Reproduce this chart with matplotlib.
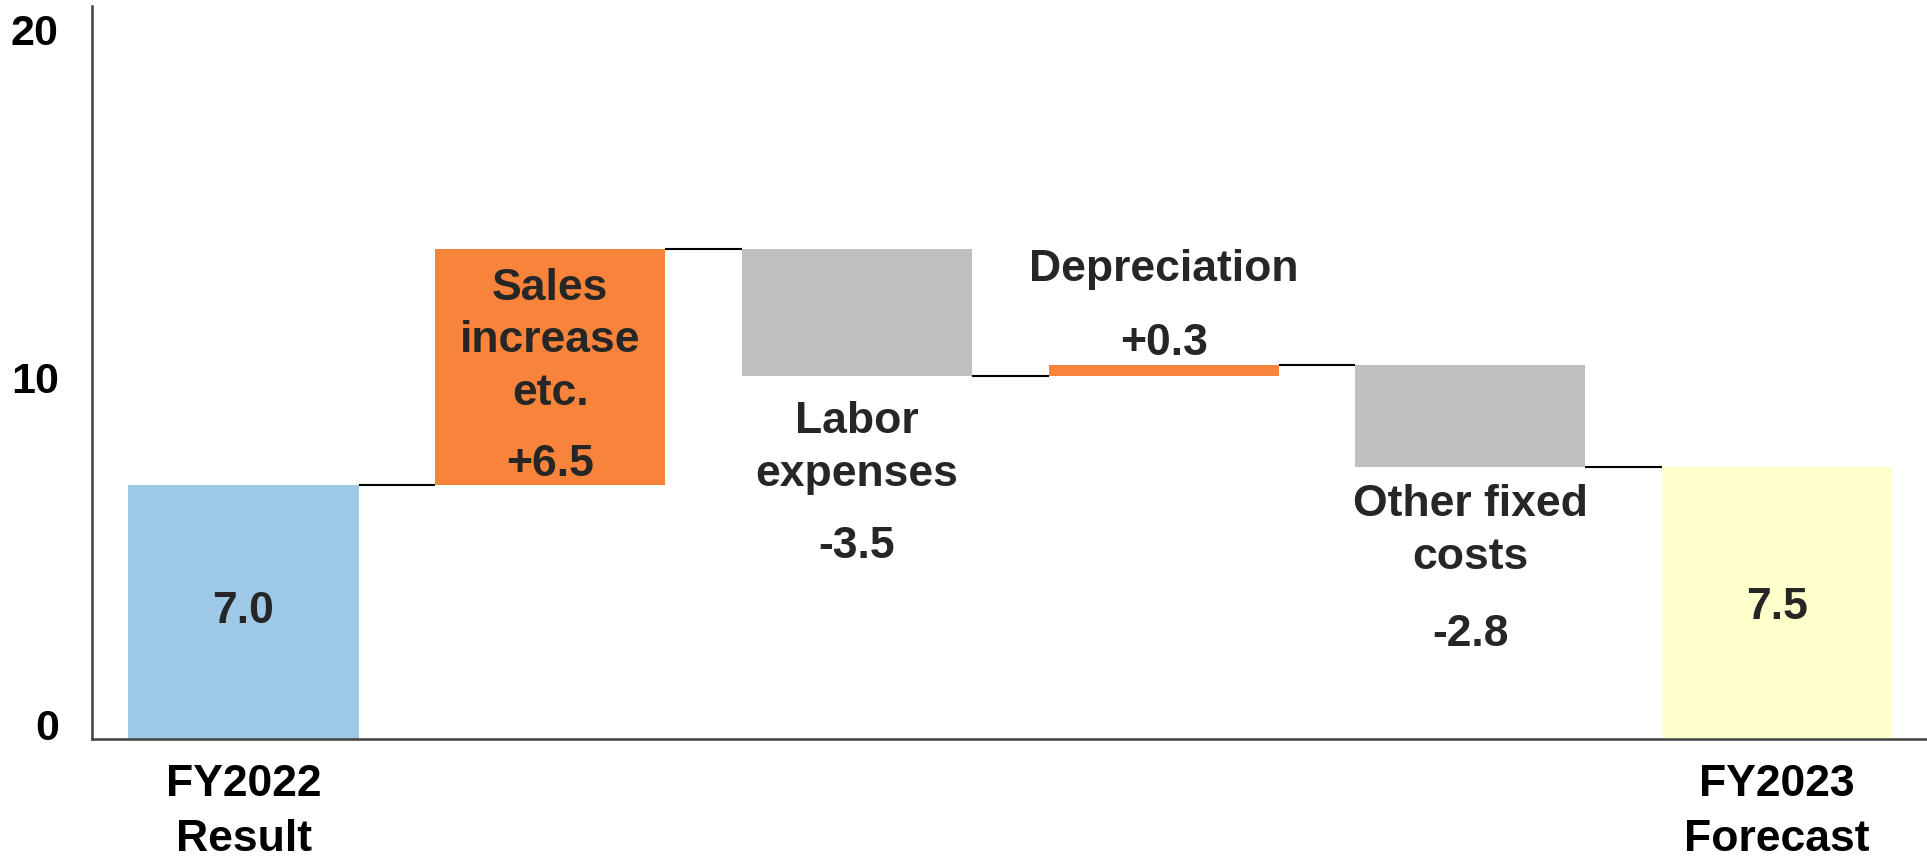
import matplotlib
matplotlib.use("Agg")
import matplotlib.pyplot as plt
import numpy as np

plt.rcParams['font.family'] = ['Liberation Sans', 'DejaVu Sans']
plt.rcParams['font.weight'] = 'bold'

# ---- data ----
categories = ["FY2022\nResult", "Sales\nincrease\netc.", "Labor\nexpenses",
              "Depreciation", "Other fixed\ncosts", "FY2023\nForecast"]
values = [7.0, 6.5, -3.5, 0.3, -2.8, 7.5]
value_labels = ["7.0", "+6.5", "-3.5", "+0.3", "-2.8", "7.5"]
kinds = ["total", "delta", "delta", "delta", "delta", "total"]
y_ticks = [0, 10, 20]
y_tick_labels = ["0", "10", "20"]
x_tick_idx = [0, 5]

# ---- styles / layout ----
C_TOTAL = ["#9DC8E6", None, None, None, None, "#FFFFCC"]
C_UP = "#F8843B"
C_DOWN = "#BFBFBF"
TXT = "#262626"
name_y = [None, 11.0, 8.05, 12.97, 5.76, None]      # centre of name block
val_y = [3.55, 7.58, 5.32, 10.94, 2.92, 3.66]       # centre of value text

W = 1927
H = 862
fig = plt.figure(figsize=(W / 100, H / 100), dpi=100)
ax = fig.add_axes([92 / W, 122 / H, 1 - 92 / W, (740 - 7) / H])

x = np.arange(len(values))
bottoms = []
heights = []
colors = []
level = 0.0
for i, (v, k) in enumerate(zip(values, kinds)):
    if k == "total":
        bottoms.append(0.0)
        heights.append(v)
        colors.append(C_TOTAL[i])
        level = v
    else:
        if v >= 0:
            bottoms.append(level)
            heights.append(v)
            colors.append(C_UP)
        else:
            bottoms.append(level + v)
            heights.append(-v)
            colors.append(C_DOWN)
        level += v

bw = 0.75
ax.bar(x, heights, bottom=bottoms, width=bw, color=colors, edgecolor='none', zorder=2)

# connectors
lev = 0.0
levels = []
for v, k in zip(values, kinds):
    lev = v if k == "total" else lev + v
    levels.append(lev)
for i in range(len(values) - 1):
    ax.hlines(levels[i], x[i] + bw / 2, x[i + 1] - bw / 2, color='black', lw=1.5, zorder=3)

# texts
FS = 32
for i in range(len(values)):
    ax.text(x[i], val_y[i], value_labels[i], ha='center', va='center',
            fontsize=FS, fontweight='bold', color=TXT, zorder=4)
    if name_y[i] is not None:
        ax.text(x[i], name_y[i], categories[i], ha='center', va='center',
                fontsize=FS, fontweight='bold', color=TXT, linespacing=1.36,
                multialignment='center', zorder=4)

ax.set_xlim(-0.494, 5.489)
ax.set_ylim(0, 20.2)

ax.set_xticks([x[i] for i in x_tick_idx])
ax.set_xticklabels([categories[i] for i in x_tick_idx], fontsize=32,
                   fontweight='bold', color='black', linespacing=1.45)
ax.set_yticks(y_ticks)
ax.set_yticklabels(y_tick_labels, fontsize=31, fontweight='bold', color='black')
ax.tick_params(axis='both', length=0)
ax.tick_params(axis='y', pad=24)
ax.tick_params(axis='x', pad=17)
ylabs = ax.get_yticklabels()
ylabs[0].set_verticalalignment('baseline')
ylabs[-1].set_verticalalignment('top')

for s in ['top', 'right']:
    ax.spines[s].set_visible(False)
for s in ['left', 'bottom']:
    ax.spines[s].set_color('#404040')
    ax.spines[s].set_linewidth(1.8)

fig.savefig("out.png", dpi=100)
